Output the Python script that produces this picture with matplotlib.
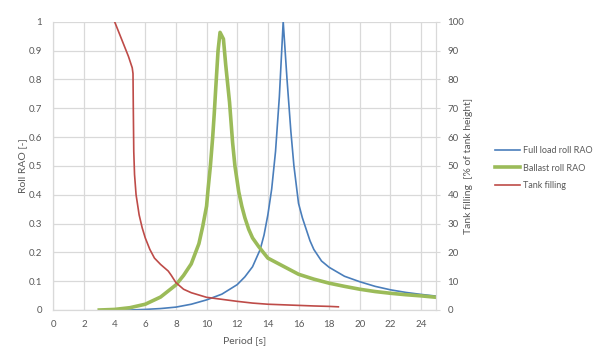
import matplotlib.pyplot as plt

plt.rcParams['font.family'] = ['Lato', 'DejaVu Sans']

# Full load roll RAO
full_x = [4, 5, 6, 7, 8, 9, 10, 11, 12, 12.5, 13, 13.5, 13.75, 14, 14.25, 14.5, 14.75, 15,
          15.25, 15.5, 15.7, 16, 16.25, 16.5, 16.75, 17, 17.5, 18, 19, 20, 21, 22, 23, 24, 25]
full_y = [0.0, 0.0, 0.002, 0.005, 0.01, 0.02, 0.035, 0.055, 0.088, 0.115, 0.15, 0.21, 0.26,
          0.33, 0.42, 0.55, 0.74, 1.0, 0.8, 0.62, 0.5, 0.37, 0.32, 0.28, 0.24, 0.21, 0.17,
          0.148, 0.117, 0.098, 0.082, 0.07, 0.061, 0.054, 0.048]

# Ballast roll RAO
ballast_x = [3, 4, 5, 6, 7, 8, 8.5, 9, 9.5, 9.75, 10, 10.1, 10.25, 10.4, 10.5, 10.6, 10.75,
             10.88, 11.1, 11.25, 11.5, 11.7, 11.85, 12.1, 12.3, 12.5, 12.75, 13.0, 13.4, 14,
             15, 16, 17, 18, 19, 20, 21, 22, 23, 24, 25]
ballast_y = [0.0, 0.002, 0.008, 0.02, 0.045, 0.087, 0.12, 0.16, 0.23, 0.29, 0.36, 0.42, 0.5,
             0.6, 0.68, 0.77, 0.9, 0.963, 0.94, 0.85, 0.72, 0.58, 0.5, 0.41, 0.36, 0.32, 0.28,
             0.25, 0.22, 0.18, 0.152, 0.124, 0.107, 0.093, 0.082, 0.072, 0.064, 0.058, 0.053,
             0.049, 0.044]

# Tank filling [% of tank height]
tank_x = [4.0, 4.3, 4.6, 4.9, 5.15, 5.2, 5.22, 5.25, 5.3, 5.4, 5.6, 5.8, 6.0, 6.3, 6.6, 7.0,
          7.5, 7.7, 8.0, 8.5, 9.0, 10, 11, 12, 13, 14, 15, 16, 17, 18, 18.6]
tank_y = [100, 96, 92, 88, 84, 82, 70, 55, 47, 40, 33, 28.5, 25, 21, 18, 15.8, 13.5, 12, 9.5,
          7.2, 6, 4.4, 3.7, 3.0, 2.4, 2.0, 1.8, 1.6, 1.4, 1.25, 1.1]

fig = plt.figure(figsize=(6.01, 3.54), dpi=100)
ax = fig.add_axes([0.0887, 0.1243, 0.6375, 0.8144])
ax2 = ax.twinx()

tick_col = '#595959'
grid_col = '#d9d9d9'

l1, = ax.plot(full_x, full_y, color='#4a7ebb', lw=1.2, label='Full load roll RAO')
l2, = ax.plot(ballast_x, ballast_y, color='#9bbb59', lw=2.6, label='Ballast roll RAO')
l3, = ax2.plot(tank_x, tank_y, color='#be4b48', lw=1.2, label='Tank filling')

ax.set_xlim(0, 25)
ax.set_ylim(0, 1)
ax2.set_ylim(0, 100)
ax.set_xticks(range(0, 25, 2))
ax.set_yticks([i / 10 for i in range(11)])
ax.set_yticklabels(['0', '0.1', '0.2', '0.3', '0.4', '0.5', '0.6', '0.7', '0.8', '0.9', '1'])
ax2.set_yticks(range(0, 101, 10))

ax.grid(True, color=grid_col, lw=0.9)
ax.set_axisbelow(True)
for a in (ax, ax2):
    for s in a.spines.values():
        s.set_color(grid_col)
    a.spines['top'].set_visible(False)
    a.tick_params(colors=tick_col, labelsize=7, length=3, width=0.8, pad=5)
    a.tick_params(axis='both', color=grid_col)
ax.tick_params(axis='y', length=0, pad=8)
ax.tick_params(axis='x', length=0, pad=7)

ax.set_xlabel('Period [s]', fontsize=7.5, color=tick_col, labelpad=5)
ax.set_ylabel('Roll RAO [-]', fontsize=7.5, color=tick_col, labelpad=1)
ax2.set_ylabel('Tank filling  [% of tank height]', fontsize=7.5, color=tick_col, labelpad=0)

fig.legend(handles=[l1, l2, l3], loc='center left', bbox_to_anchor=(0.81, 0.525),
           frameon=False, fontsize=6.5, handlelength=2.8, labelspacing=0.95,
           handletextpad=0.3, labelcolor=tick_col)

fig.savefig('out.png', dpi=100)
